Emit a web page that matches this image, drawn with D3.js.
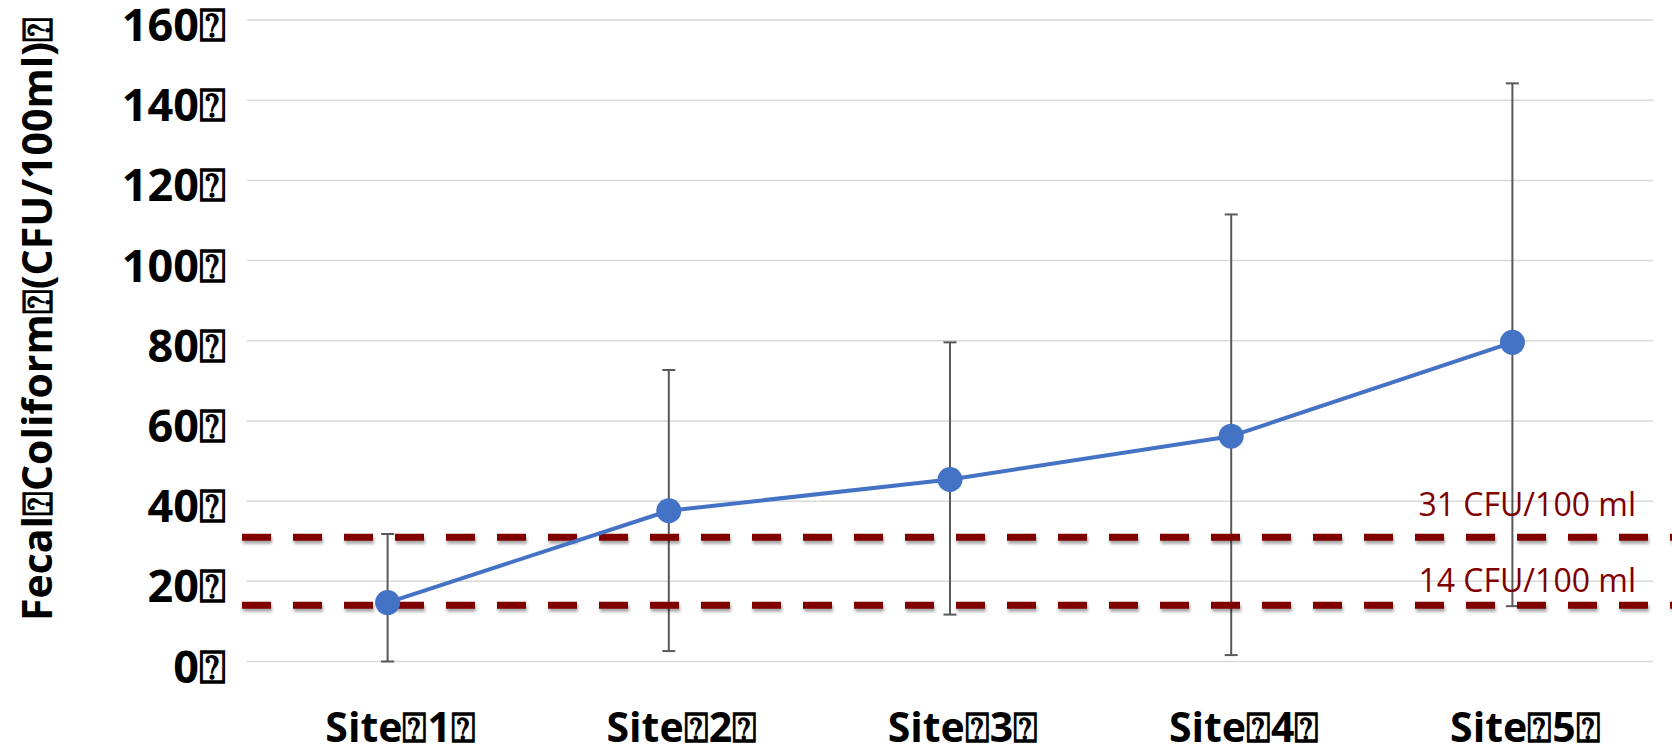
<!DOCTYPE html>
<html>
<head>
<meta charset="utf-8">
<script src="https://cdn.jsdelivr.net/npm/d3@7"></script>
<style>
  html, body { margin: 0; padding: 0; background: #ffffff; }
  svg { display: block; }
</style>
</head>
<body>
<svg id="chart" width="1672" height="751"></svg>
<script>
// Fecal coliform counts per sampling site (mean with min/max range)
const siteLabels = ["Site⍰1⍰", "Site⍰2⍰", "Site⍰3⍰", "Site⍰4⍰", "Site⍰5⍰"];
const meanValues = [14.7, 37.6, 45.4, 56.2, 79.6];
const errLow = [0, 2.6, 11.7, 1.6, 13.8];
const errHigh = [31.8, 72.7, 79.6, 111.5, 144.2];
const yTicks = [0, 20, 40, 60, 80, 100, 120, 140, 160];
const yTickLabels = ["0⍰", "20⍰", "40⍰", "60⍰", "80⍰", "100⍰", "120⍰", "140⍰", "160⍰"];
const thresholds = [31, 14];
const thresholdLabels = ["31 CFU/100 ml", "14 CFU/100 ml"];
const yTitle = "Fecal⍰Coliform⍰(CFU/100ml)⍰";

const W = 1672, H = 751;
const plot = { left: 247, right: 1653, top: 20, bottom: 661.5 };

const svg = d3.select("#chart");

// soft shadow under the dashed limit lines
const defs = svg.append("defs");
const shadow = defs.append("filter").attr("id", "dashShadow")
  .attr("filterUnits", "userSpaceOnUse")
  .attr("x", 0).attr("y", 0).attr("width", W).attr("height", H);
shadow.append("feDropShadow")
  .attr("dx", 1).attr("dy", 3).attr("stdDeviation", 1.8)
  .attr("flood-color", "#000").attr("flood-opacity", 0.35);

const x = d3.scalePoint().domain(siteLabels).range([plot.left, plot.right]).padding(0.5);
const y = d3.scaleLinear().domain([0, 160]).range([plot.bottom, plot.top]);

// horizontal gridlines
svg.append("g").selectAll("line").data(yTicks).join("line")
  .attr("x1", plot.left).attr("x2", plot.right)
  .attr("y1", d => y(d)).attr("y2", d => y(d))
  .attr("stroke", "#d9d9d9").attr("stroke-width", 1.5);

// y tick labels
const fontBold = "'Open Sans', 'DejaVu Sans', sans-serif";
svg.append("g").selectAll("text").data(yTicks).join("text")
  .attr("x", 226).attr("y", d => y(d) + 21)
  .attr("text-anchor", "end")
  .attr("font-family", fontBold).attr("font-weight", 700).attr("font-size", 45)
  .attr("fill", "#000")
  .text((d, i) => yTickLabels[i]);

// category labels
svg.append("g").selectAll("text").data(siteLabels).join("text")
  .attr("x", d => x(d)).attr("dx", 13).attr("y", 742)
  .attr("text-anchor", "middle")
  .attr("font-family", fontBold).attr("font-weight", 700).attr("font-size", 41)
  .attr("fill", "#000")
  .text(d => d);

// y axis title
svg.append("text")
  .attr("transform", "translate(52,319) rotate(-90)")
  .attr("text-anchor", "middle")
  .attr("font-family", fontBold).attr("font-weight", 700).attr("font-size", 41)
  .attr("fill", "#000")
  .text(yTitle);

// error bars
const eb = svg.append("g").attr("stroke", "#595959").attr("stroke-width", 2);
siteLabels.forEach((s, i) => {
  const cx = x(s);
  eb.append("line").attr("x1", cx).attr("x2", cx).attr("y1", y(errLow[i])).attr("y2", y(errHigh[i]));
  eb.append("line").attr("x1", cx - 6.5).attr("x2", cx + 6.5).attr("y1", y(errHigh[i])).attr("y2", y(errHigh[i]));
  eb.append("line").attr("x1", cx - 6.5).attr("x2", cx + 6.5).attr("y1", y(errLow[i])).attr("y2", y(errLow[i]));
});

// threshold dashed lines
svg.append("g").attr("filter", "url(#dashShadow)")
  .selectAll("line").data(thresholds).join("line")
  .attr("x1", 242).attr("x2", W)
  .attr("y1", d => y(d)).attr("y2", d => y(d))
  .attr("stroke", "#800000").attr("stroke-width", 7)
  .attr("stroke-dasharray", "29 22");

// threshold labels
const labelOffsets = [-21, -13];
svg.append("g").selectAll("text").data(thresholds).join("text")
  .attr("x", 1636).attr("y", (d, i) => y(d) + labelOffsets[i])
  .attr("text-anchor", "end")
  .attr("font-family", "'Open Sans', sans-serif").attr("font-size", 32)
  .attr("fill", "#800000")
  .text((d, i) => thresholdLabels[i]);

// mean line and markers
const line = d3.line().x((d, i) => x(siteLabels[i])).y(d => y(d));
svg.append("path").datum(meanValues)
  .attr("d", line)
  .attr("fill", "none").attr("stroke", "#4472C4").attr("stroke-width", 4)
  .attr("stroke-linejoin", "round");

svg.append("g").selectAll("circle").data(meanValues).join("circle")
  .attr("cx", (d, i) => x(siteLabels[i])).attr("cy", d => y(d))
  .attr("r", 12.5).attr("fill", "#4472C4");
</script>
</body>
</html>
